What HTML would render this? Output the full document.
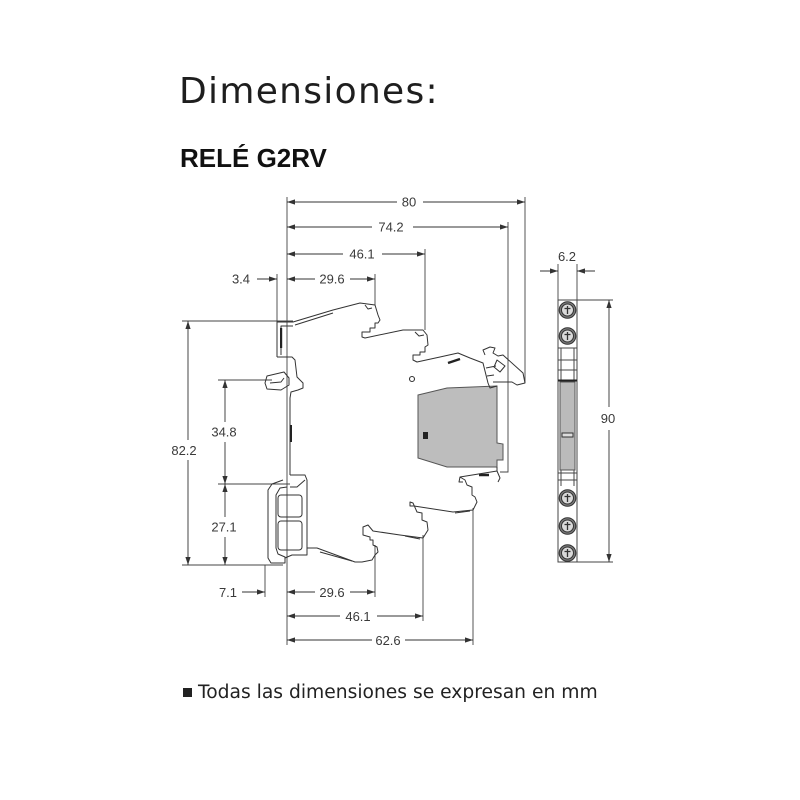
<!DOCTYPE html>
<html><head><meta charset="utf-8">
<style>
html,body{margin:0;padding:0;background:#fff;}
body{width:800px;height:800px;overflow:hidden;}
svg{display:block;}
</style></head><body>
<svg width="800" height="800" viewBox="0 0 800 800" xmlns="http://www.w3.org/2000/svg">
<defs>
<marker id="a" viewBox="0 0 8 6" refX="8" refY="3" markerWidth="8" markerHeight="6" markerUnits="userSpaceOnUse" orient="auto-start-reverse"><path d="M0,0.4 L8,3 L0,5.6z" fill="#333"/></marker>
</defs>
<rect width="800" height="800" fill="#fff"/>
<text x="179" y="103" font-family="'DejaVu Sans', sans-serif" font-size="36" letter-spacing="1.3" fill="#1e1e1e">Dimensiones:</text>
<text x="180" y="167" font-family="'Liberation Sans', sans-serif" font-size="26" font-weight="bold" fill="#111">RELÉ G2RV</text>
<rect x="183" y="688" width="9" height="9" fill="#222"/>
<text x="198" y="698" font-family="'DejaVu Sans', sans-serif" font-size="18.7" fill="#222">Todas las dimensiones se expresan en mm</text>

<!-- extension lines -->
<g stroke="#444" stroke-width="0.9" fill="none">
<path d="M287,197 V645 M525,197 V383 M508,222 V472 H500 M425,249 V330 M375,274 V305 M277,274 V322 M182,321 H293 M218,380 H272 M218,484 H290 M182,565 H283 M265,565 V597 M375,545 V597 M423,535 V621 M473,508 V645 M558,264 V300 M577,264 V300 M577,300 H613 M577,562 H613"/>
</g>
<!-- dimension lines -->
<g stroke="#333" stroke-width="0.9" fill="none" marker-start="url(#a)" marker-end="url(#a)">
<path d="M287,202 H397 M423,202 H525"/>
<path d="M287,227 H372 M413,227 H508"/>
<path d="M287,254 H343 M382,254 H425"/>
<path d="M287,279 H315 M350,279 H375"/>
<path d="M188,321 V440 M188,460 V565"/>
<path d="M225,380 V422 M225,442 V484"/>
<path d="M225,484 V517 M225,537 V565"/>
<path d="M287,592 H315 M350,592 H375"/>
<path d="M287,616 H340 M377,616 H423"/>
<path d="M287,640 H372 M405,640 H473"/>
<path d="M609,300 V407 M609,430 V562"/>
</g>
<g stroke="#333" stroke-width="0.9" fill="none" marker-end="url(#a)">
<path d="M257,279 H277"/>
<path d="M242,592 H265"/>
<path d="M540,271 H558"/>
<path d="M595,271 H577"/>
</g>
<g font-family="'Liberation Sans', Arial, sans-serif" font-size="13" fill="#3a3a3a" text-anchor="middle">
<text x="409" y="206.5">80</text>
<text x="391" y="231.5">74.2</text>
<text x="362" y="258.5">46.1</text>
<text x="332" y="283.5">29.6</text>
<text x="241" y="283.5">3.4</text>
<text x="184" y="455">82.2</text>
<text x="224" y="436.5">34.8</text>
<text x="224" y="531.5">27.1</text>
<text x="228" y="597">7.1</text>
<text x="332" y="597">29.6</text>
<text x="358" y="621">46.1</text>
<text x="388" y="645">62.6</text>
<text x="567" y="261">6.2</text>
<text x="608" y="423">90</text>
</g>

<!-- relay gray body -->
<polygon points="418,395 447,388 497,386 497,443 503,444 503,460 497,460 497,467 447,467 418,458" fill="#bdbdbd" stroke="#555" stroke-width="1"/>
<rect x="423" y="432" width="5" height="7" fill="#222"/>
<circle cx="412" cy="379" r="2.5" fill="none" stroke="#333" stroke-width="1.1"/>

<!-- socket outline -->
<g stroke="#333" stroke-width="1" fill="none" stroke-linejoin="round">
<path d="M277,357 V322 H293 L333,310 L360,303 L375,305 L378,315 L380,320 L378,323 L375,323 L375,328 L370,328 L370,332 L362,332 L362,337 L365,338 L403,330 L423,330 L427,335 L428,345 L425,347 L425,352 L420,352 L420,355 L413,355 L413,360 L417,362 L440,357 L458,353 L470,358 L483,363 L488,383 L490,388 L497,386"/>
<path d="M295,325 L333,313 M281,355 V326 H293"/>
<path d="M365,305 L368,309 L372,308 M415,332 L419,336 L424,335"/>
<path d="M485,355 L483,350 L490,347 L495,348 L493,353 L498,356 L503,355 L523,373 L525,383 L517,385 L512,382 L493,382 M497,360 L505,366 L500,372 L494,367z M486,368 L496,366 M487,376 L494,375"/>
<path d="M277,357 H292 L295,360 L297,377 L303,383 L303,388 L298,390 L291,392 L290,398 V475"/>
<path d="M267,376 L284,372 L289,378 L289,385 L281,390 L267,389 L265,383 Z M270,383 L281,382 L284,378"/>
<path d="M290,475 H305 L307,480 V548 H317 L355,562 L362,562 L372,560 L375,555 L378,552 L377,547 L373,545 L373,540 L370,540 L370,537 L363,535 L363,527 L368,525 L373,531 L400,535 L423,538 L428,530 L427,522 L422,520 L422,513 L417,512 L413,503 L410,502 L410,506 L414,506 L453,512 L473,510 L477,502 L475,497 L472,495 L472,487 L467,485 L465,480 L460,477 L459,482 L463,482"/>
<path d="M460,477 L497,471 V467 M497,471 L500,478 L498,482"/>
<path d="M305,480 L297,487 H290 M283,480 L272,484 L268,490 V558 L271,563 H285 V557 L278,554 L276,548 V495 L280,488 L287,487 M285,558 L292,555 H307 V548"/>
<rect x="278" y="495" width="24" height="22" rx="3"/>
<rect x="278" y="521" width="24" height="29" rx="3"/>
<path d="M320,552 L352,561 M405,536 L420,539 M455,513 L470,511"/>
</g>
<rect x="280" y="328" width="2.2" height="20" fill="#222"/>
<rect x="290" y="425" width="2" height="17" fill="#222"/>
<path d="M448,363 L460,359" stroke="#222" stroke-width="2.5"/>
<path d="M479,475 H489" stroke="#222" stroke-width="2.5"/>

<!-- side view -->
<g stroke="#444" stroke-width="1" fill="none">
<rect x="558" y="300" width="19" height="262"/>
<path d="M558,348 H577 M558,360 H577 M558,370 H577 M561,348 V380 M574,348 V380 M558,473 H577 M558,480 H577 M561,470 V486 M574,470 V486"/>
</g>
<path d="M558,380.5 H577" stroke="#222" stroke-width="2"/>
<rect x="560" y="382" width="15" height="88" fill="#bbb" stroke="#555" stroke-width="1"/>
<rect x="562" y="433" width="11" height="4" fill="#ddd" stroke="#333" stroke-width="1"/>
<g stroke="#333" stroke-width="1">
<circle cx="567.5" cy="310" r="8.3" fill="#7a7a7a"/><circle cx="567.5" cy="310" r="6" fill="#dadada"/><path d="M567.5,306 V314 M564.5,308.5 H570.5" stroke-width="1.3"/>
<circle cx="567.5" cy="336" r="8.3" fill="#7a7a7a"/><circle cx="567.5" cy="336" r="6" fill="#dadada"/><path d="M567.5,332 V340 M564.5,334.5 H570.5" stroke-width="1.3"/>
<circle cx="567.5" cy="498" r="8.3" fill="#7a7a7a"/><circle cx="567.5" cy="498" r="6" fill="#dadada"/><path d="M567.5,494 V502 M564.5,496.5 H570.5" stroke-width="1.3"/>
<circle cx="567.5" cy="526" r="8.3" fill="#7a7a7a"/><circle cx="567.5" cy="526" r="6" fill="#dadada"/><path d="M567.5,522 V530 M564.5,524.5 H570.5" stroke-width="1.3"/>
<circle cx="567.5" cy="553" r="8.3" fill="#7a7a7a"/><circle cx="567.5" cy="553" r="6" fill="#dadada"/><path d="M567.5,549 V557 M564.5,551.5 H570.5" stroke-width="1.3"/>
</g>
</svg>
</body></html>
